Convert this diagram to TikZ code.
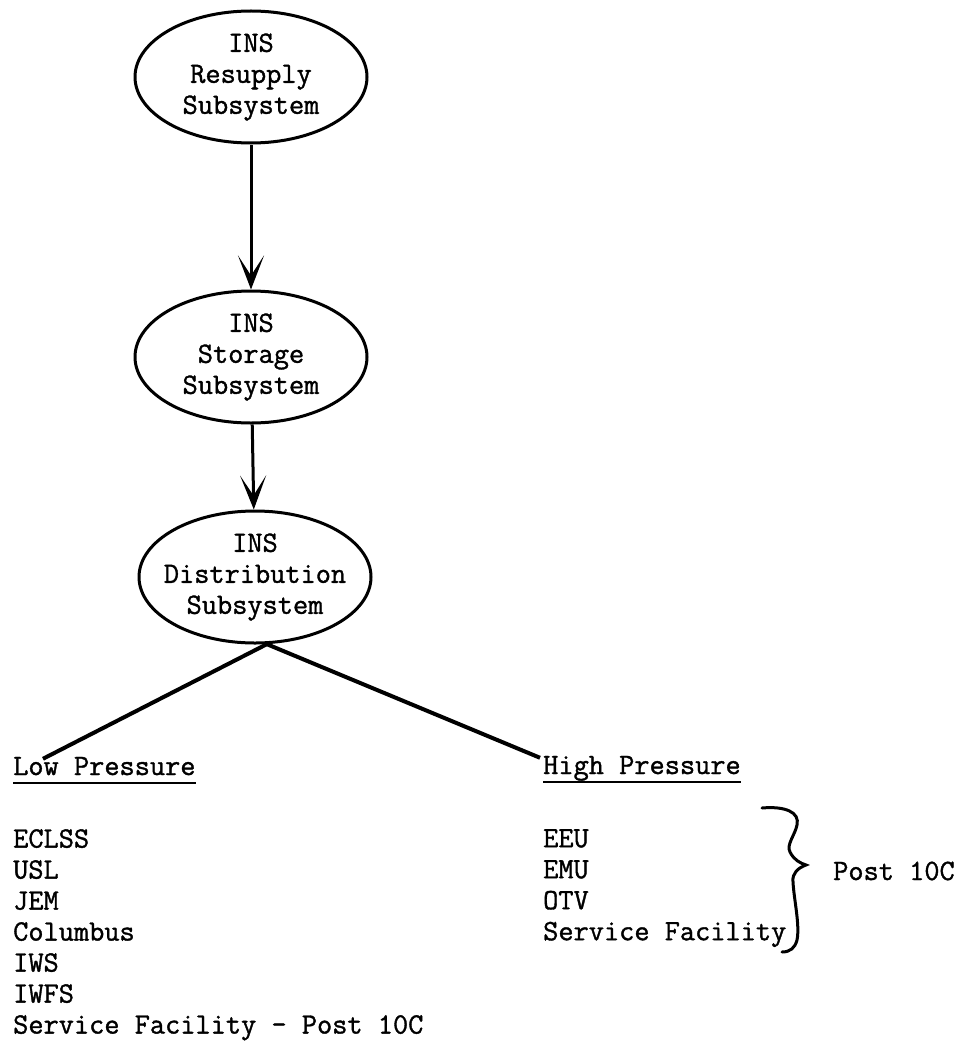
\documentclass[tikz,border=0pt]{standalone}
\usepackage{fontspec}
\usepackage{tikz}
\usetikzlibrary{positioning,shapes.geometric,arrows.meta}

\newfontfamily\typewr{Latin Modern Mono}[FakeBold=1.2]

\tikzset{
  subsys/.style={draw, ellipse, line width=3pt, minimum width=232pt, minimum height=132pt,
    inner xsep=-12pt, inner ysep=0pt, align=center},
  txt/.style={inner sep=0pt, align=left},
  heading/.style={inner sep=0pt, text depth=8pt},
  flow/.style={line width=3pt, -{Stealth[length=34pt, width=26pt, inset=20pt]}},
  branch/.style={line width=4pt},
  ul/.style={line width=2pt},
}

\begin{document}
\begin{tikzpicture}[x=1pt, y=-1pt, font=\typewr\fontsize{29.5}{31}\selectfont]
      \useasboundingbox (0,0) rectangle (965,1046);
      % Define nodes
      \node[subsys] at (251,77)                      (res)  {INS\\Resupply\\Subsystem};
      \node[subsys, below=145pt of res]              (sto)  {INS\\Storage\\Subsystem};
      \node[subsys, below=85pt of sto, xshift=4pt]   (dist) {INS\\Distribution\\Subsystem};
      \node[heading, anchor=base west] at (13,775)   (low)  {Low Pressure};
      \node[heading, anchor=base west] at (543,774)  (high) {High Pressure};
      \node[txt, anchor=north west] at (13,829)      (lowlist)
        {ECLSS\\USL\\JEM\\Columbus\\IWS\\IWFS\\Service Facility - Post 10C};
      \node[txt, anchor=north west] at (543,829)     (highlist)
        {EEU\\EMU\\OTV\\Service Facility};
      \node[txt, anchor=base west] at (833,880)      (post) {Post 10C};
      % Connect the nodes
      \draw[flow] (res) -- (sto);
      \draw[flow] (sto) -- (dist);
      \draw[branch] (dist.-80) -- ([xshift=30pt, yshift=-2pt]low.north west);
      \draw[branch] (dist.-80) -- ([xshift=-3pt, yshift=-2pt]high.north west);
      \draw[ul] (low.south west) -- (low.south east);
      \draw[ul] (high.south west) -- (high.south east);

      % Brace
      \draw[line width=3pt, line cap=round]
        (762,808) .. controls (785,806) and (800,812) .. (797,825)
        .. controls (795,835) and (786,845) .. (790,852)
        .. controls (794,860) and (800,863) .. (806,865)
        .. controls (798,868) and (792,873) .. (793,882)
        .. controls (794,900) and (800,925) .. (797,940)
        .. controls (795,948) and (790,952) .. (782,952);
\end{tikzpicture}
\end{document}
